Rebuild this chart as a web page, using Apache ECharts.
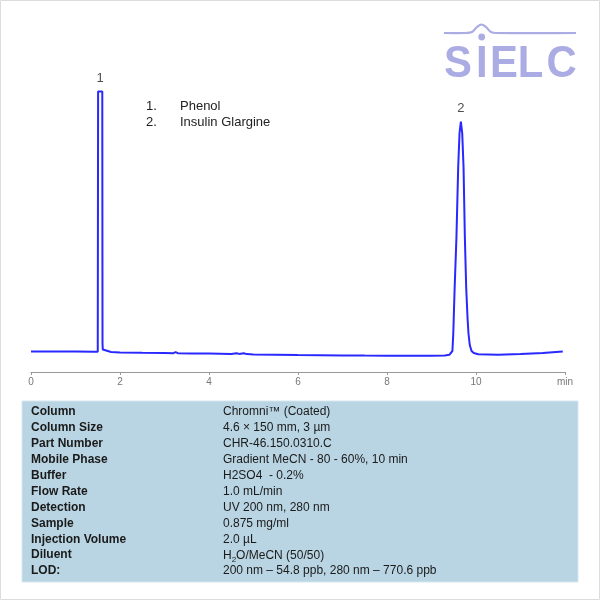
<!DOCTYPE html>
<html>
<head>
<meta charset="utf-8">
<script src="https://cdn.jsdelivr.net/npm/echarts@6/dist/echarts.min.js"></script>
<style>html,body{margin:0;padding:0;background:#fff}#c{width:600px;height:600px}</style>
</head>
<body>
<div id="c"></div>
<script>
// retention time (min) and detector signal (arbitrary units)
var time = [
  0, 0.5, 1.0, 1.4, 1.5, 1.503, 1.508, 1.602, 1.607, 1.613, 1.65, 1.8,
  2.0, 2.5, 3.0, 3.2, 3.25, 3.3, 3.6, 4.0, 4.5, 4.62, 4.68, 4.78, 4.85,
  5.0, 5.5, 6.0, 6.5, 7.0, 7.5, 8.0, 8.5, 9.0, 9.3, 9.4, 9.44,
  9.47, 9.49, 9.52, 9.56, 9.60, 9.63, 9.66, 9.69, 9.72, 9.75, 9.78, 9.81, 9.83, 9.86, 9.90, 9.95,
  10.05, 10.5, 11.0, 11.5, 11.95
];
var signal = [
  20.5, 20.5, 20.5, 20.2, 20.3, 21, 280.5, 280.5, 29, 22.5, 21.5, 20,
  19.5, 19.2, 19, 18.8, 19.8, 18.8, 18.6, 18.4, 18, 18.8, 18.1, 18.8, 17.9,
  17.6, 17.3, 17, 16.8, 16.6, 16.4, 16.3, 16.3, 16.3, 16.6, 17.2, 17.8,
  21, 39, 84, 134, 205, 239, 250.5, 239, 205, 134, 84, 54, 39, 27, 21, 19,
  17.7, 17.3, 18, 19, 20.5
];
var peakTimes = [1.555, 9.66];
var peakHeights = [280.5, 250.5];
var peakLabels = ['1', '2'];
var compoundNos = ['1.', '2.'];
var compoundNames = ['Phenol', 'Insulin Glargine'];
var xTicks = [0, 2, 4, 6, 8, 10, 12];
var xUnit = 'min';
var paramNames = ['Column', 'Column Size', 'Part Number', 'Mobile Phase', 'Buffer', 'Flow Rate', 'Detection', 'Sample', 'Injection Volume', 'Diluent', 'LOD:'];
var paramValues = ['Chromni\u2122 (Coated)', '4.6 \u00d7 150 mm, 3 \u00b5m', 'CHR-46.150.0310.C', 'Gradient MeCN - 80 - 60%, 10 min', 'H2SO4  - 0.2%', '1.0 mL/min', 'UV 200 nm, 280 nm', '0.875 mg/ml', '2.0 \u00b5L', '{a|H}{s|2}{a|O/MeCN (50/50)}', '200 nm \u2013 54.8 ppb, 280 nm \u2013 770.6 ppb'];
var logoLetters = ['S', 'I', 'E', 'L', 'C'];

var FONT = '"Liberation Sans", Arial, sans-serif';
var chart = echarts.init(document.getElementById('c'), null, {renderer: 'canvas'});

var lineData = time.map(function (t, i) { return [t, signal[i]]; });
var peakData = peakTimes.map(function (t, i) { return {value: [t, peakHeights[i]], name: peakLabels[i]}; });

var graphics = [];
graphics.push({type: 'rect', shape: {x: 0.5, y: 0.5, width: 599, height: 599}, style: {fill: null, stroke: '#dcdcdc', lineWidth: 1}, silent: true});
// legend of compounds
compoundNames.forEach(function (n, i) {
  graphics.push({type: 'text', x: 146, y: 106 + i * 16.5, style: {text: compoundNos[i], font: '13px ' + FONT, fill: '#222', textVerticalAlign: 'middle'}});
  graphics.push({type: 'text', x: 180, y: 106 + i * 16.5, style: {text: n, font: '13px ' + FONT, fill: '#222', textVerticalAlign: 'middle'}});
});
// logo
var logoColor = '#abace4';
graphics.push({type: 'polyline', shape: {points: [[444, 33], [466, 33], [472, 32], [477, 27], [481.5, 24.5], [486, 27], [491, 32], [497, 33], [576, 33]], smooth: 0.4}, style: {stroke: logoColor, lineWidth: 2.2, fill: null}});
graphics.push({type: 'circle', shape: {cx: 481.7, cy: 37, r: 3.4}, style: {fill: logoColor}});
var letterX = [458, 481.7, 504, 530.5, 561.5];
logoLetters.forEach(function (l, i) {
  graphics.push({type: 'text', x: letterX[i], y: 64.5, scaleX: 0.93, style: {text: l, font: 'bold 45px ' + FONT, fill: logoColor, textAlign: 'center', textVerticalAlign: 'middle'}});
});
// table
graphics.push({type: 'rect', shape: {x: 22, y: 401, width: 556, height: 181}, style: {fill: '#b9d5e3', stroke: '#d5e7f0', lineWidth: 1}});
paramNames.forEach(function (n, i) {
  var y = 412 + i * 15.9;
  graphics.push({type: 'text', x: 31, y: y, style: {text: n, font: 'bold 12px ' + FONT, fill: '#1a1a1a', textVerticalAlign: 'middle'}});
  var v = paramValues[i];
  if (v.indexOf('{') === 0) {
    graphics.push({type: 'text', x: 223, y: y + 1, style: {text: v, fill: '#1a1a1a', textVerticalAlign: 'middle', rich: {a: {font: '12px ' + FONT, fill: '#1a1a1a', lineHeight: 14}, s: {font: '8px ' + FONT, fill: '#1a1a1a', lineHeight: 14, padding: [7, 0, 0, 0]}}}});
  } else {
    graphics.push({type: 'text', x: 223, y: y, style: {text: v, font: '12px ' + FONT, fill: '#1a1a1a', textVerticalAlign: 'middle'}});
  }
});

chart.setOption({
  animation: false,
  backgroundColor: '#fff',
  grid: {left: 31, right: 35, top: 72, bottom: 228},
  xAxis: {
    type: 'value', min: 0, max: 12, interval: 2,
    axisLine: {show: true, lineStyle: {color: '#999', width: 1}},
    axisTick: {show: true, length: 3, lineStyle: {color: '#999'}},
    axisLabel: {color: '#777', fontSize: 10, fontFamily: FONT, margin: 5,
      formatter: function (v) { return v === xTicks[xTicks.length - 1] ? xUnit : String(v); }},
    splitLine: {show: false}
  },
  yAxis: {type: 'value', min: 0, max: 300, show: false, splitLine: {show: false}},
  series: [
    {type: 'line', data: lineData, showSymbol: false, symbol: 'none', lineStyle: {color: '#2828ff', width: 2}, silent: true},
    {type: 'scatter', data: peakData, symbolSize: 0, silent: true,
      label: {show: true, position: 'top', distance: 7, formatter: '{b}', color: '#222', fontSize: 13, fontFamily: FONT}}
  ],
  graphic: graphics
});
</script>
</body>
</html>
